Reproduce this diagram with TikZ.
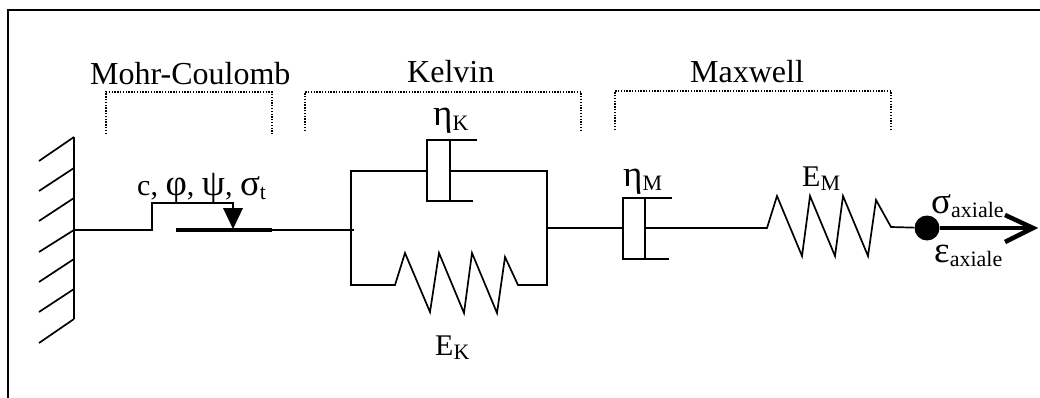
\documentclass[tikz,border=0pt]{standalone}
\usepackage{fontspec}
\setmainfont{Liberation Serif}
\usetikzlibrary{calc}
\newcommand{\lowsub}[1]{\raisebox{-4.5pt}{\fontsize{22}{22}\selectfont #1}}
\newcommand{\grk}[1]{{\fontsize{37}{36}\selectfont #1}}
\tikzset{
link/.style={line width=1.7pt},
bracket/.style={line width=1.2pt,dash pattern=on 1.3pt off 1.5pt},
lbl/.style={anchor=base west,inner sep=0pt,font=\fontsize{32}{36}\selectfont},
sublbl/.style={anchor=base west,inner sep=0pt,font=\fontsize{30}{36}\selectfont}
}

\begin{document}
\begin{tikzpicture}[x=1pt,y=-1pt]
\useasboundingbox (0,0) rectangle (1040,398);
% frame
\draw[line width=2pt] (8,398) -- (8,10) -- (1040,10);

\node[lbl](mohr) at (90,85){Mohr-Coulomb};
\node[lbl](kelvin) at (407,83){Kelvin};
\node[lbl](maxwell) at (690,83){Maxwell};
\node[sublbl](params) at (137,195){c, \grk{φ}, \grk{ψ}, \grk{σ}\lowsub{t}};
\node[sublbl](etaK) at (433,126){\grk{η}\lowsub{K}};
\node[sublbl](EK) at (435,355){E\lowsub{K}};
\node[sublbl](etaM) at (623,186){\grk{η}\lowsub{M}};
\node[sublbl](EM) at (802,186){E\lowsub{M}};
\node[sublbl](sigma) at (931,213){\grk{σ}\lowsub{axiale}};
\node[sublbl](eps) at (934,262){\grk{ε}\lowsub{axiale}};

% brackets
\draw[bracket] (106,134) -- (106,92) -- (272,92) -- (272,134);
\draw[bracket] (305,131) -- (305,92) -- (581,92) -- (581,131);
\draw[bracket] (615,130) -- (615,91) -- (891,91) -- (891,130);

% wall
\coordinate(wallT) at (74,137);
\coordinate(wallB) at (74,319);
\coordinate(wallM) at (74,230);
\draw[link] (wallT) -- (wallB);
\foreach \ya/\yb in {137/161,168/191,198/221,230/252,259/282,289/312,319/343}
  \draw[link] (74,\ya) -- (39,\yb);

% slider
\coordinate(slideL) at (176,230);
\coordinate(slideR) at (272,230);
\coordinate(kelvinL) at (354,230);
\draw[link] (wallM) -- (152,230) -- (152,203) -- (233,203) -- (233,209);
\fill (223,208) -- (243,208) -- (233,229) -- cycle;
\draw[line width=3.4pt] (slideL) -- (slideR);
\draw[link] (slideR) -- (kelvinL);

% kelvin
\coordinate(kTL) at (351,171);
\coordinate(kBL) at (351,285);
\coordinate(kTR) at (547,171);
\coordinate(kBR) at (547,285);
\coordinate(kM) at (547,228);
\draw[link] (450,171) -- (kTR) -- (kBR) -- (518,285) -- (505,257) -- (497,313) -- (472,253) -- (464,313) -- (439,253) -- (430,312) -- (405,253) -- (395,285) -- (kBL) -- (kTL) -- (427,171);
\draw[link] (477,140) -- (427,140) -- (427,201) -- (473,201);
\draw[link] (450,140) -- (450,201);

% maxwell
\coordinate(mL) at (623,228);
\coordinate(mP) at (645,228);
\coordinate(tip) at (1033,228);
\node[circle,fill,inner sep=0pt,minimum size=25pt](dot) at (927,228){};
\draw[link] (kM) -- (mL);
\draw[link] (672,198) -- (623,198) -- (623,259) -- (669,259);
\draw[link] (645,198) -- (645,259);
\draw[link] (mP) -- (767,228) -- (777,196) -- (802,256) -- (810,196) -- (835,256) -- (843,196) -- (868,256) -- (876,200) -- (891,227) -- (dot);
\draw[line width=4.5pt] (dot) -- (tip);
\draw[line width=4.5pt,miter limit=10] (1005,215) -- (tip) -- (1005,242);
\end{tikzpicture}
\end{document}
